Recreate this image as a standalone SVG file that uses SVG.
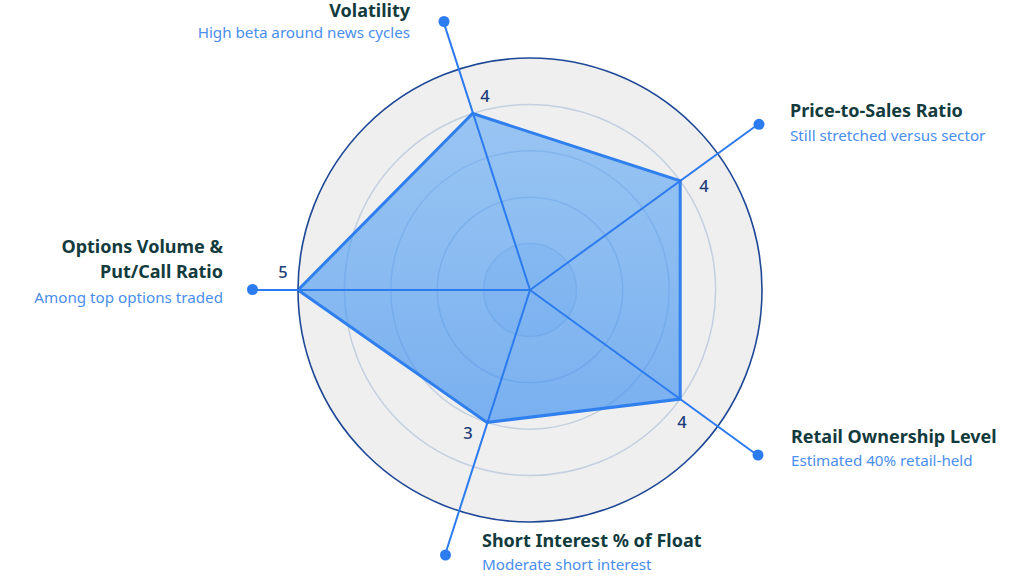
<svg xmlns="http://www.w3.org/2000/svg" width="1024" height="576" viewBox="0 0 1024 576">
<style>
.title{font-family:"Noto Sans","Open Sans",sans-serif;font-weight:700;font-size:18px;fill:#133b3d}
.sub{font-family:"Noto Sans","Open Sans",sans-serif;font-size:15.2px;fill:#4a8eee}
.val{font-family:"Noto Sans","Open Sans",sans-serif;font-weight:500;font-size:16.5px;fill:#1f3d78;text-anchor:middle}
.grid{fill:none;stroke:#c4cfdf;stroke-width:1.5}
.axis{stroke:#2c7bef;stroke-width:2}
.dot{fill:#2c7bef}
</style>
<defs>
<linearGradient id="pg" x1="0" y1="0" x2="0" y2="1">
<stop offset="0" stop-color="#5aa6f5" stop-opacity="0.58"/>
<stop offset="1" stop-color="#3a8ef0" stop-opacity="0.65"/>
</linearGradient>
</defs>
<rect width="1024" height="576" fill="#ffffff"/>
<g id="grid">
<circle cx="530" cy="290" r="232" fill="#efefef"/>
<circle cx="530" cy="290" r="46" fill="#5a9be8" fill-opacity="0.12"/>
<circle class="grid" cx="530" cy="290" r="46.4"/>
<circle class="grid" cx="530" cy="290" r="92.8"/>
<circle class="grid" cx="530" cy="290" r="139.2"/>
<circle class="grid" cx="530" cy="290" r="185.6"/>
</g>
<g id="data">
<polygon points="472.6,113.5 680.2,180.9 680.2,399.1 487,422.4 298,290" fill="url(#pg)" stroke="#2f7fee" stroke-width="3" stroke-linejoin="miter"/>
</g>
<circle cx="530" cy="290" r="232" fill="none" stroke="#1e4896" stroke-width="1.6"/>
<g id="connectors">
<line class="axis" x1="530" y1="290" x2="443.8" y2="22.6"/>
<line class="axis" x1="530" y1="290" x2="758.2" y2="124.3"/>
<line class="axis" x1="530" y1="290" x2="757.5" y2="455.3"/>
<line class="axis" x1="530" y1="290" x2="445" y2="555"/>
<line class="axis" x1="530" y1="290" x2="252" y2="290"/>
</g>
<g id="node-volatility">
<circle class="dot" cx="444" cy="21.5" r="5.5"/>
<text class="title" x="410" y="17" text-anchor="end">Volatility</text>
<text class="sub" x="410" y="38" text-anchor="end">High beta around news cycles</text>
<text class="val" x="485" y="102">4</text>
</g>
<g id="node-price-to-sales">
<circle class="dot" cx="759" cy="124.3" r="5.5"/>
<text class="title" x="790" y="117">Price-to-Sales Ratio</text>
<text class="sub" x="790" y="141">Still stretched versus sector</text>
<text class="val" x="704" y="192">4</text>
</g>
<g id="node-retail">
<circle class="dot" cx="758" cy="455" r="5.5"/>
<text class="title" x="791" y="443">Retail Ownership Level</text>
<text class="sub" x="791" y="466">Estimated 40% retail-held</text>
<text class="val" x="682" y="428">4</text>
</g>
<g id="node-short-interest">
<circle class="dot" cx="445.5" cy="555" r="5.5"/>
<text class="title" x="482" y="547">Short Interest % of Float</text>
<text class="sub" x="482" y="570">Moderate short interest</text>
<text class="val" x="468" y="439">3</text>
</g>
<g id="node-options">
<circle class="dot" cx="252.5" cy="289.5" r="5.5"/>
<text class="title" x="223" y="253" text-anchor="end">Options Volume &amp;</text>
<text class="title" x="223" y="278" text-anchor="end">Put/Call Ratio</text>
<text class="sub" x="223" y="303" text-anchor="end">Among top options traded</text>
<text class="val" x="283" y="278">5</text>
</g>
</svg>
